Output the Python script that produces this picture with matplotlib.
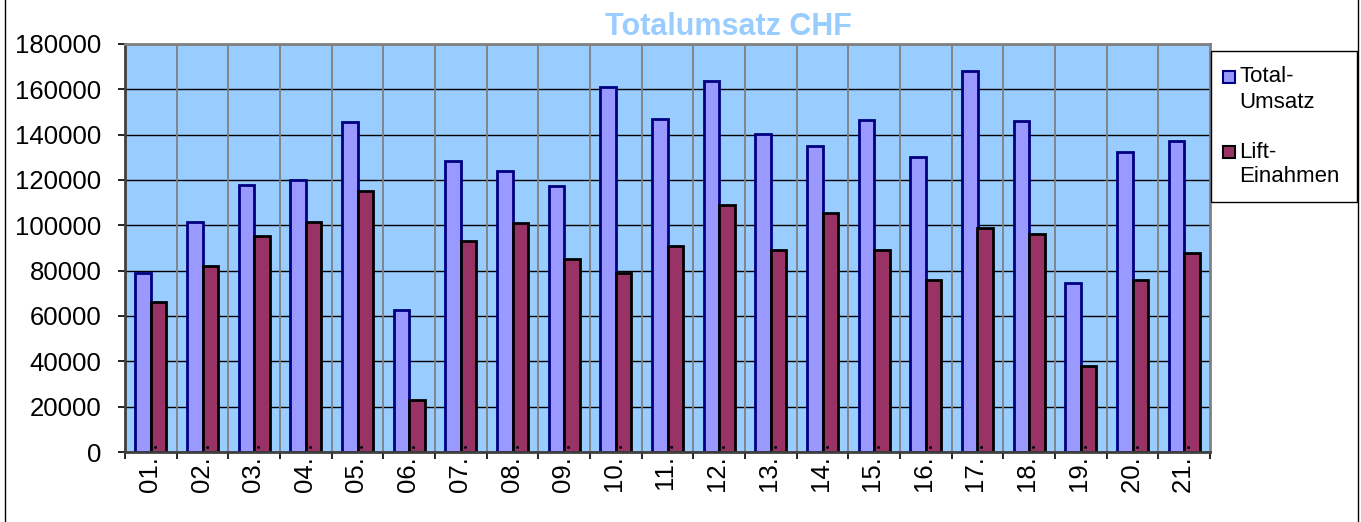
import matplotlib.pyplot as plt
import matplotlib.patches as patches
import matplotlib.transforms as mtransforms
from matplotlib.lines import Line2D
import numpy as np

plt.rcParams['font.family'] = ['Liberation Sans', 'DejaVu Sans']

# Daten
labels = ["01", "02", "03", "04", "05", "06", "07", "08", "09", "10", "11",
          "12", "13", "14", "15", "16", "17", "18", "19", "20", "21"]
total_umsatz = [79000, 101500, 118000, 120000, 145500, 62500, 128500, 124000,
                117500, 161000, 147000, 163500, 140500, 135000, 146500, 130000,
                168000, 146000, 74500, 132500, 137000]
lift_einahmen = [66000, 82000, 95500, 101500, 115000, 23000, 93000, 101000,
                 85000, 79000, 91000, 109000, 89000, 105500, 89000, 76000,
                 99000, 96000, 38000, 76000, 88000]
yticks = [0, 20000, 40000, 60000, 80000, 100000, 120000, 140000, 160000, 180000]

W, H = 1361, 522
fig = plt.figure(figsize=(W / 100, H / 100), dpi=100)
ax = fig.add_axes([125 / W, 1 - 452 / H, (1210 - 125) / W, (452 - 44) / H])
ax.set_facecolor('#99CCFF')

x = np.arange(len(labels))
bw = 0.3
ax.bar(x - 0.15, total_umsatz, bw, color='#9999FF', edgecolor='#000080',
       linewidth=2, zorder=2)
ax.bar(x + 0.15, lift_einahmen, bw, color='#993366', edgecolor='black',
       linewidth=2, zorder=2)

ax.set_xlim(-0.5, len(labels) - 0.5)
ax.set_ylim(0, 180000)
ax.set_yticks(yticks)
ax.set_yticklabels([str(v) for v in yticks], fontsize=18.5)
ax.grid(axis='y', color='black', linewidth=1, zorder=1)
ax.set_axisbelow(True)

# Kategorien-Beschriftungen (ragen leicht in die Zeichenfläche) und Trennstriche
ax.set_xticks([])
ax.set_xticks(np.arange(len(labels) + 1) - 0.5, minor=True)
ax.tick_params(axis='x', which='minor', length=5, width=1.2, color='black')
ax.tick_params(axis='y', length=5, width=1.2, pad=12)
lab_tr = mtransforms.offset_copy(ax.get_xaxis_transform(), fig=fig, x=0, y=9, units='dots')
for xi, l in zip(x, labels):
    ax.text(xi, 0, l + ". .", transform=lab_tr, rotation=90, ha='center', va='top',
            fontsize=18.5, zorder=5, clip_on=False)
for b in np.arange(1, len(labels)) - 0.5:
    ax.axvline(b, color='#808080', linewidth=1.3, zorder=1)

for s in ['top', 'right']:
    ax.spines[s].set_color('#808080')
    ax.spines[s].set_linewidth(2)
for s in ['left', 'bottom']:
    ax.spines[s].set_color('#404040')
    ax.spines[s].set_linewidth(2)

fig.text(728 / W, 1 - 27 / H, "Totalumsatz CHF", ha='center', va='center',
         fontsize=22, weight='bold', color='#99CCFF')

# Legende
fig.patches.append(patches.Rectangle((1211 / W, 1 - 202 / H), 146 / W, 151 / H,
                                     transform=fig.transFigure, facecolor='white',
                                     edgecolor='black', linewidth=1))
entries = [("Total-", "Umsatz", '#9999FF', '#000080', 77),
           ("Lift-", "Einahmen", '#993366', 'black', 152)]
for l1, l2, fc, ec, yc in entries:
    fig.patches.append(patches.Rectangle((1223 / W, 1 - (yc + 6) / H), 12 / W, 12 / H,
                                         transform=fig.transFigure, facecolor=fc,
                                         edgecolor=ec, linewidth=1.5))
    fig.text(1239 / W, 1 - yc / H, l1, ha='left', va='center', fontsize=16)
    fig.text(1239 / W, 1 - (yc + 25) / H, l2, ha='left', va='center', fontsize=16)

# Rahmenlinien links und rechts
fig.add_artist(Line2D([4.5 / W, 4.5 / W], [0, 1], color='black', linewidth=1))
fig.add_artist(Line2D([1357.5 / W, 1357.5 / W], [0, 1], color='black', linewidth=1))

fig.savefig('out.png', dpi=100)
